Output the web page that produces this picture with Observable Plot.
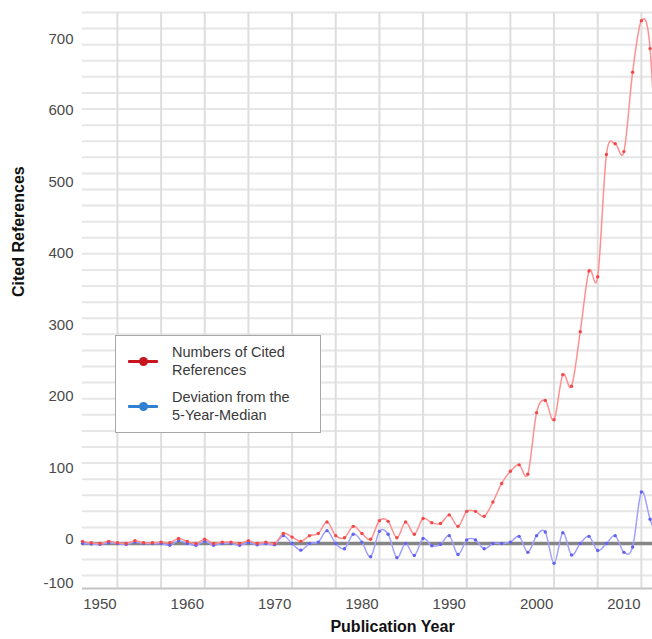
<!DOCTYPE html>
<html>
<head>
<meta charset="utf-8">
<script src="https://cdn.jsdelivr.net/npm/d3@7"></script>
<script src="https://cdn.jsdelivr.net/npm/@observablehq/plot@0.6"></script>
<style>
html, body { margin: 0; padding: 0; background: #fff; overflow: hidden; }
#wrap { position: relative; width: 652px; height: 639px; overflow: hidden; font-family: "Liberation Sans", Arial, sans-serif; }
#chart svg { max-width: none !important; width: 702px !important; height: 639px !important; display: block; }
#legend { position: absolute; left: 115px; top: 335px; width: 204px; height: 96px; border: 1px solid #a8a8a8; background: #fff; }
.sym { position: absolute; left: 12px; width: 30px; height: 3px; border-radius: 1px; }
.sym span { position: absolute; left: 11px; top: -3px; width: 9px; height: 9px; border-radius: 50%; }
.lab { position: absolute; left: 56px; font-size: 14.5px; line-height: 18.4px; color: #3a3a3a; white-space: nowrap; }
</style>
</head>
<body>
<div id="wrap"><div id="chart"></div><div id="legend"></div></div>
<script>
// Publication years (one point per year)
const years = [1948,1949,1950,1951,1952,1953,1954,1955,1956,1957,1958,1959,1960,1961,1962,1963,1964,1965,1966,1967,1968,1969,1970,1971,1972,1973,1974,1975,1976,1977,1978,1979,1980,1981,1982,1983,1984,1985,1986,1987,1988,1989,1990,1991,1992,1993,1994,1995,1996,1997,1998,1999,2000,2001,2002,2003,2004,2005,2006,2007,2008,2009,2010,2011,2012,2013,2014];
// Numbers of cited references
const citedRefs = [3,1,0,3,1,0,4,1,1,2,1,7,3,0,6,0,2,2,0,4,0,2,0,14,9,3,11,14,30,11,8,24,14,6,32,31,8,30,13,35,29,28,40,24,45,45,38,58,84,101,110,97,183,200,173,236,220,296,381,373,544,559,548,659,731,692,450];
// Deviation from the 5-year median
const deviation = [0,-1,-2,1,0,-2,2,0,0,0,-4,4,0,-4,3,-4,0,0,-4,1,-3,0,-3,11,0,-15,0,2,18,0,-12,13,2,-30,17,13,-32,0,-27,7,-5,-2,11,-25,5,5,-12,0,0,2,10,-20,11,16,-45,15,-26,0,10,-16,0,11,-20,-8,72,34,0];

const seriesNames = ["Numbers of Cited References", "Deviation from the 5-Year-Median"];
const legendLines = [["Numbers of Cited", "References"], ["Deviation from the", "5-Year-Median"]];
const legendColors = ["#c8141e", "#2f7fd2"];

const yTicks = [-100, 0, 100, 200, 300, 400, 500, 600, 700];
const xTicks = [1950, 1960, 1970, 1980, 1990, 2000, 2010];
const xGrid = [1952, 1957, 1962, 1967, 1972, 1977, 1982, 1987, 1992, 1997, 2002, 2007, 2012, 2017];
const yGrid = [-72.6, -36.3].concat(d3.range(0, 743, 22.5));

// the axis below zero is drawn compressed, as in the original picture
const belowZero = 62.9 / 102;
const yTransform = v => (v < 0 ? v * belowZero : v);

const data = years.map((year, i) => ({year, refs: citedRefs[i], dev: deviation[i]}));

const chart = Plot.plot({
  width: 702,
  height: 639,
  marginLeft: 82,
  marginRight: 0,
  marginTop: 12,
  marginBottom: 51,
  style: {fontFamily: "'Liberation Sans', Arial, sans-serif", fontSize: "15px", color: "#4a4a4a", background: "white", overflow: "hidden"},
  x: {domain: [1948, 2019]},
  y: {domain: [-62.9, 742.5], transform: yTransform},
  marks: [
    Plot.ruleY(yGrid, {stroke: "#e6e6e6", strokeWidth: 2}),
    Plot.ruleX(xGrid, {stroke: "#dedede", strokeWidth: 2}),
    Plot.ruleY([-102], {stroke: "#c4c4c4", strokeWidth: 2}),
    Plot.ruleY([0], {stroke: "#858585", strokeWidth: 3.5}),
    Plot.axisY(yTicks, {tickSize: 0, tickPadding: 9, dy: -4, tickFormat: d => String(d), label: null}),
    Plot.axisX(xTicks, {tickSize: 0, tickPadding: 10, tickFormat: d => String(d), label: null}),
    Plot.line(data, {x: "year", y: "dev", curve: "cardinal", stroke: "#a0a0ff", strokeWidth: 1.5}),
    Plot.dot(data, {x: "year", y: "dev", r: 1.7, fill: "#6262f2"}),
    Plot.line(data, {x: "year", y: "refs", curve: "cardinal", stroke: "#ff9090", strokeWidth: 1.5}),
    Plot.dot(data, {x: "year", y: "refs", r: 1.7, fill: "#f04848"}),
    Plot.text(["Publication Year"], {frameAnchor: "bottom", dy: 43, fontWeight: "bold", fontSize: 16, fill: "#111"}),
    Plot.text(["Cited References"], {frameAnchor: "left", dx: -64, dy: -3.5, rotate: -90, fontWeight: "bold", fontSize: 16, fill: "#111"})
  ]
});
document.getElementById("chart").appendChild(chart);

// Legend
const legend = document.getElementById("legend");
const rowTops = [7, 52];
seriesNames.forEach((name, i) => {
  const sym = document.createElement("div");
  sym.className = "sym";
  sym.style.top = (rowTops[i] + 17.2) + "px";
  sym.style.background = legendColors[i];
  const dot = document.createElement("span");
  dot.style.background = legendColors[i];
  sym.appendChild(dot);
  legend.appendChild(sym);
  const lab = document.createElement("div");
  lab.className = "lab";
  lab.style.top = rowTops[i] + "px";
  lab.title = name;
  lab.innerHTML = legendLines[i].join("<br>");
  legend.appendChild(lab);
});
</script>
</body>
</html>
